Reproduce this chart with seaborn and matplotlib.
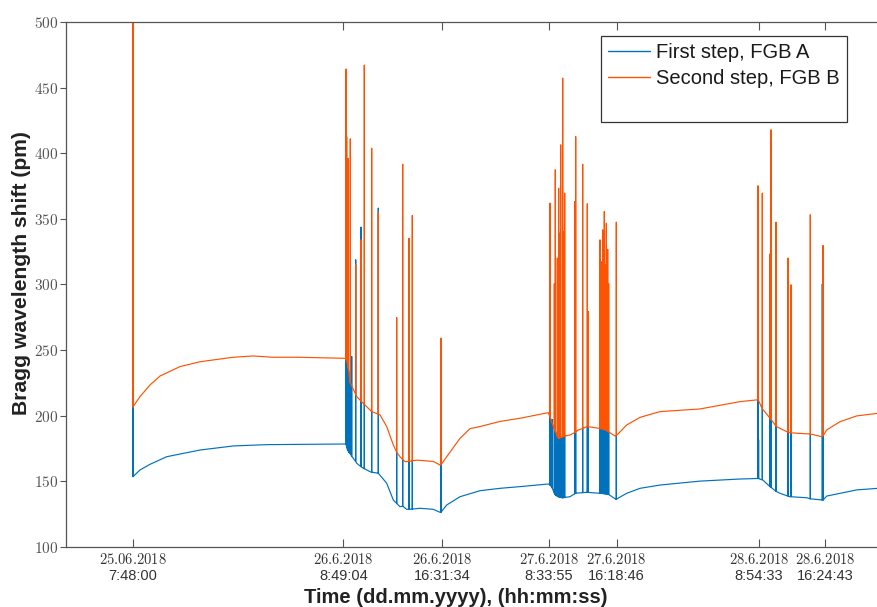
import numpy as np
import pandas as pd
import matplotlib
matplotlib.use("Agg")
import matplotlib.pyplot as plt
from matplotlib.lines import Line2D
import seaborn as sns

# ---------------------------------------------------------------------------
# Data (x = acquisition sample index, y = Bragg wavelength shift in pm)
# ---------------------------------------------------------------------------
# FGB A (first step) – smooth baseline
a_x = [0, 70, 170, 337, 670, 1003, 1337, 1670, 2125, 2170, 2237, 2303, 2370,
       2453, 2537, 2603, 2670, 2737, 2870, 3003, 3077, 3137, 3270, 3470, 3670,
       3870, 4153, 4170, 4220, 4303, 4370, 4420, 4537, 4670, 4753, 4830, 4937,
       5070, 5270, 5670, 6070, 6253, 6287, 6370, 6470, 6570, 6737, 6887, 6937,
       7070, 7237, 7450]
a_y = [153.4, 158.5, 162.8, 168.6, 173.7, 176.8, 177.8, 178.0, 178.3, 171.2,
       163.6, 159.8, 157.2, 156.0, 148.4, 135.6, 130.5, 128.5, 129.3, 128.5,
       126.0, 131.8, 138.1, 142.7, 144.5, 145.8, 147.8, 147.0, 139.9, 137.3,
       138.1, 140.7, 141.5, 140.7, 139.9, 136.1, 140.7, 144.5, 147.0, 150.0,
       151.6, 152.0, 151.0, 145.8, 140.7, 138.1, 137.3, 135.6, 138.6, 140.7,
       143.3, 144.5]
# FGB A – transient spikes: position, peak, foot
a_spk_x = [0, 2130, 2137, 2145, 2153, 2160, 2173, 2187, 2227, 2280, 2313, 2387,
           2453, 2637, 2697, 2760, 2793, 3080,
           4170, 4190, 4213, 4223, 4233, 4243, 4257, 4267, 4277, 4287, 4297,
           4307, 4317, 4417, 4427, 4497, 4543, 4553,
           4670, 4680, 4690, 4697, 4713, 4723, 4733, 4747, 4757, 4833,
           6250, 6256, 6293, 6370, 6380, 6430, 6550, 6580, 6773, 6893, 6900]
a_spk_top = [206.0, 243.0, 242.0, 240.0, 236.0, 232.0, 225.0, 245.0, 318.6,
             343.5, 208.5, 203.0, 358.0, 172.0, 166.5, 165.0, 165.5, 162.5,
             199.0, 197.0, 190.0, 188.0, 186.0, 184.0, 182.6, 183.0, 183.3,
             183.5, 183.8, 184.0, 184.2, 187.0, 187.5, 190.0, 191.5, 191.5,
             190.0, 190.0, 302.0, 189.8, 189.3, 189.0, 188.7, 188.0, 187.5,
             184.6,
             212.0, 181.4, 205.0, 198.0, 197.0, 192.0, 187.2, 186.8, 185.9,
             300.0, 184.5]
a_spk_base = [153.4, 178.3, 176.0, 174.0, 173.0, 172.0, 170.8, 169.0, 165.0,
              161.0, 159.5, 156.8, 156.0, 133.0, 130.9, 128.5, 128.7, 126.3,
              147.0, 145.0, 141.0, 139.6, 139.0, 138.5, 138.0, 137.8, 137.6,
              137.4, 137.3, 137.4, 137.6, 140.4, 140.8, 141.2, 141.5, 141.4,
              140.7, 140.7, 140.6, 140.5, 140.4, 140.3, 140.2, 140.0, 139.8,
              136.2,
              152.0, 152.0, 151.2, 145.8, 145.3, 142.2, 138.6, 138.1, 136.5,
              135.6, 135.5]

# FGB B (second step) – smooth baseline
b_x = [0, 70, 170, 270, 470, 670, 1000, 1200, 1400, 1670, 2125, 2170, 2237,
       2303, 2387, 2470, 2537, 2603, 2670, 2720, 2837, 3003, 3070, 3137, 3270,
       3370, 3470, 3670, 3870, 4153, 4203, 4253, 4370, 4453, 4537, 4653, 4753,
       4820, 4937, 5070, 5270, 5670, 6070, 6253, 6303, 6370, 6437, 6570, 6770,
       6887, 6937, 7070, 7237, 7450]
b_y = [206.7, 214.4, 223.3, 230.1, 237.3, 241.0, 244.4, 245.4, 244.4, 244.4,
       243.6, 225.8, 214.4, 209.3, 203.0, 200.5, 191.6, 177.6, 168.6, 164.8,
       166.0, 165.0, 162.3, 168.6, 182.6, 190.0, 191.6, 195.5, 197.9, 202.2,
       191.5, 182.6, 185.2, 189.0, 191.5, 190.3, 187.7, 184.4, 192.8, 198.6,
       203.0, 205.0, 210.6, 211.9, 204.2, 197.9, 191.5, 186.9, 185.9, 183.9,
       189.0, 195.3, 199.7, 201.7]
# FGB B – transient spikes: position, peak, foot
b_spk_x = [0, 2130, 2137, 2153, 2173, 2227, 2280, 2313, 2387, 2453, 2637, 2697,
           2760, 2793, 3080,
           4170, 4213, 4223, 4243, 4257, 4267, 4277, 4297, 4307, 4317, 4417,
           4427, 4497, 4543, 4553,
           4670, 4680, 4697, 4713, 4723, 4733, 4747, 4757, 4833,
           6250, 6293, 6370, 6380, 6430, 6550, 6580, 6773, 6900]
b_spk_top = [520.0, 464.0, 412.6, 396.0, 410.8, 314.8, 333.8, 467.0, 403.7,
             355.0, 274.6, 391.5, 335.0, 352.4, 258.9,
             361.8, 300.3, 387.2, 319.9, 373.2, 338.9, 406.2, 457.1, 340.2,
             369.4, 363.0, 412.6, 391.5, 361.3, 279.2,
             333.8, 317.3, 341.4, 355.4, 314.8, 346.5, 326.7, 300.3, 347.3,
             375.0, 369.4, 323.1, 417.7, 347.3, 319.9, 299.5, 352.9, 329.5]
b_spk_base = [206.7, 243.0, 242.0, 236.0, 225.0, 216.0, 211.0, 208.5, 203.0,
              201.0, 172.0, 166.5, 165.0, 165.5, 162.5,
              199.0, 190.0, 188.0, 184.0, 182.6, 183.0, 183.3, 183.8, 184.0,
              184.2, 187.0, 187.5, 190.0, 191.5, 191.5,
              190.0, 190.0, 189.8, 189.3, 189.0, 188.7, 188.0, 187.5, 184.6,
              212.0, 205.0, 198.0, 197.0, 192.0, 187.2, 186.8, 185.9, 184.5]

series_names = ["First step, FGB A", "Second step, FGB B"]
tick_pos = [0, 2103, 3093, 4160, 4837, 6260, 6920]
tick_date = ["25.06.2018", "26.6.2018", "26.6.2018", "27.6.2018", "27.6.2018",
             "28.6.2018", "28.6.2018"]
tick_time = ["7:48:00", "8:49:04", "16:31:34", "8:33:55", "16:18:46",
             "8:54:33", "16:24:43"]


def trace(bx, by, sx, stop, sbase):
    """Merge baseline samples with spike triplets (foot, peak, foot)."""
    pts = [(x, 1, y) for x, y in zip(bx, by)]
    for x, t, b in zip(sx, stop, sbase):
        pts += [(x, 0, b), (x, 0.5, t), (x, 0.6, b)]
    pts.sort(key=lambda p: (p[0], p[1]))
    return [p[0] for p in pts], [p[2] for p in pts]


ax_x, ax_y = trace(a_x, a_y, a_spk_x, a_spk_top, a_spk_base)
bx_x, bx_y = trace(b_x, b_y, b_spk_x, b_spk_top, b_spk_base)
df = pd.concat([
    pd.DataFrame({"x": ax_x, "y": ax_y, "series": series_names[0]}),
    pd.DataFrame({"x": bx_x, "y": bx_y, "series": series_names[1]}),
], ignore_index=True)

# ---------------------------------------------------------------------------
# Styling
# ---------------------------------------------------------------------------
sns.set_style("white")
plt.rcParams["font.family"] = ["Liberation Sans", "DejaVu Sans"]
plt.rcParams["mathtext.fontset"] = "cm"

blue = "#0072BD"
orange = "#FC5404"
axis_grey = "#555555"
text_grey = "#333333"

fig = plt.figure(figsize=(8.78, 6.07), dpi=100)
ax = fig.add_axes([66 / 878, 1 - 546.7 / 607, 1 - 66 / 878, (546.7 - 22) / 607])

sns.lineplot(data=df, x="x", y="y", hue="series", hue_order=series_names,
             palette=[blue, orange], sort=False, estimator=None,
             linewidth=0.85, legend=False, ax=ax)

ax.set_xlim(-670, 7450)
ax.set_ylim(100, 500)

yt = np.arange(100, 501, 50)
ax.set_yticks(yt)
ax.set_yticklabels([r"$\mathrm{%d}$" % v for v in yt])
ax.set_xticks(tick_pos)
ax.set_xticklabels([r"$\mathrm{%s}$" % d + "\n" + t
                    for d, t in zip(tick_date, tick_time)])

ax.tick_params(axis="x", direction="in", length=6, width=0.8, color=axis_grey,
               top=True, bottom=True, labelsize=10.5, labelcolor=text_grey,
               pad=4)
ax.tick_params(axis="y", direction="out", length=4, width=0.8, color=axis_grey,
               left=True, labelsize=11, labelcolor="#555555", pad=1.5)

for side in ["left", "bottom", "top"]:
    ax.spines[side].set_color(axis_grey)
    ax.spines[side].set_linewidth(0.9)
ax.spines["right"].set_visible(False)

ax.set_xlabel("Time (dd.mm.yyyy), (hh:mm:ss)", fontsize=14.5,
              fontweight="bold", color="#222222")
ax.set_ylabel("Bragg wavelength shift (pm)", fontsize=15.2,
              fontweight="bold", color="#222222")
ax.xaxis.set_label_coords((456 - 66) / 812, (546.7 - 588) / 524.7)
ax.yaxis.set_label_coords((31 - 66) / 812, (546.7 - 273) / 524.7)

handles = [Line2D([], [], color=blue, lw=1.0),
           Line2D([], [], color=orange, lw=1.0),
           Line2D([], [], color="none", lw=0)]
leg = ax.legend(handles, series_names + [" "], loc="upper left",
                bbox_to_anchor=(601 / 878, 1 - 36 / 607),
                bbox_transform=fig.transFigure, fontsize=14.5,
                frameon=True, fancybox=False, framealpha=1,
                edgecolor="#333333", borderpad=0.36, handlelength=2.08,
                handletextpad=0.3, labelspacing=0.36, borderaxespad=0)
leg.get_frame().set_linewidth(0.9)
for txt in leg.get_texts():
    txt.set_color("#1a1a1a")

fig.savefig("out.png", dpi=100)
